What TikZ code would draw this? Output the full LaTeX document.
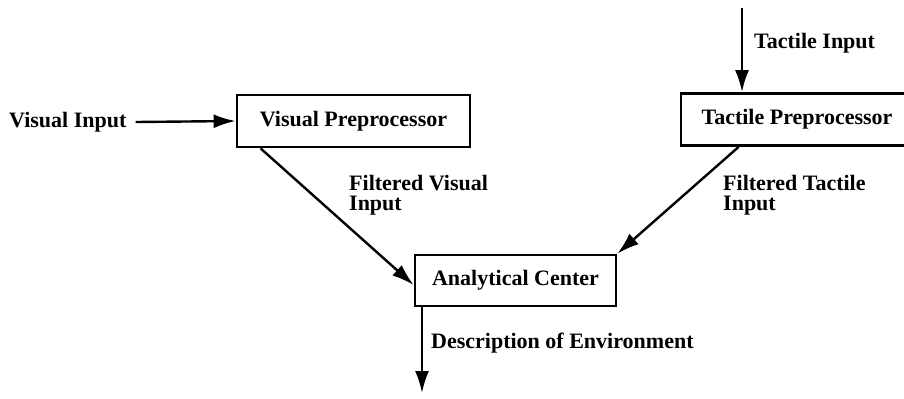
\documentclass[tikz,border=0pt]{standalone}
\usepackage{fontspec}
\setmainfont{Liberation Serif}
\usetikzlibrary{arrows.meta}

\begin{document}
\begin{tikzpicture}[x=0.5pt,y=-0.5pt,
        font=\bfseries\fontsize{11}{10}\selectfont,
        line width=1.2pt,
        box/.style={draw,line width=1.4pt,minimum width=116.5pt,minimum height=26pt,inner sep=0pt},
        lbl/.style={anchor=west,inner sep=0pt,align=left},
        >={Latex[length=11pt,width=7pt]}]
        \useasboundingbox (0,0) rectangle (904,398);

        \node[box] (vp) at (353.5,121) {Visual Preprocessor};
        \node[box,minimum width=116pt] (tp) at (797,119.5) {Tactile Preprocessor};
        \node[box,minimum width=100.5pt,minimum height=25.5pt] (ac) at (515.5,280.5) {Analytical Center};

        \node[lbl] (vi) at (8,122) {Visual Input};
        \node[lbl] (ti) at (753,43) {Tactile Input};
        \node[lbl] (fv) at (348,195) {Filtered Visual\\Input};
        \node[lbl] (ft) at (722,195) {Filtered Tactile\\Input};
        \node[lbl] (de) at (430,343) {Description of Environment};

        \coordinate (tsrc) at (742,8);
        \coordinate (dout) at (422,393);

        \draw[->] ([xshift=4pt]vi.east) -- (vp.west);
        \draw[->] (tsrc) -- (tsrc |- tp.north);
        \draw[->] ([xshift=12.5pt]vp.south west) -- ([yshift=-2.25pt]ac.west);
        \draw[->] ([xshift=29.5pt]tp.south west) -- (ac.north east);
        \draw[->] (ac.south west -| dout) -- (dout);
    \end{tikzpicture}
\end{document}
